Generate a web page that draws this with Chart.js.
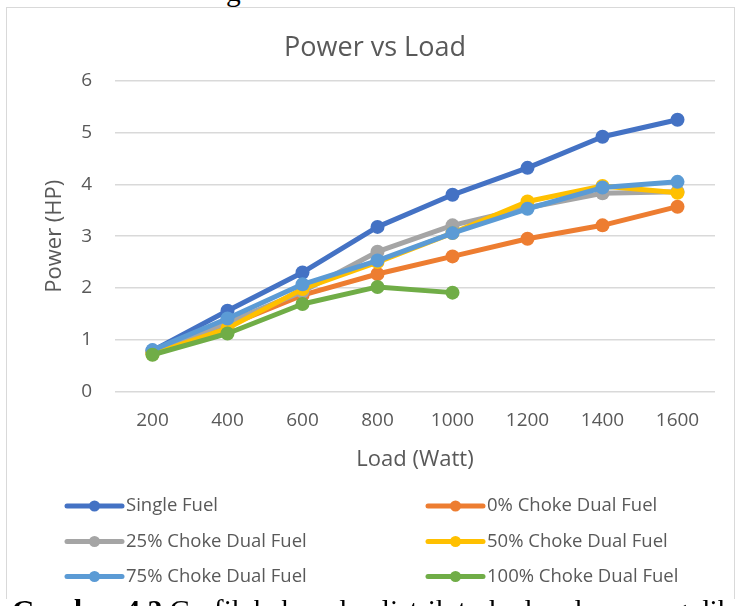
<!DOCTYPE html>
<html>
<head>
<meta charset="utf-8">
<title>Power vs Load</title>
<script src="https://cdn.jsdelivr.net/npm/chart.js@4.4.1/dist/chart.umd.min.js"></script>
<style>
  html, body { margin: 0; padding: 0; background: #fff; width: 739px; height: 606px; overflow: hidden; }
  #frame { position: absolute; left: 6px; top: 7px; width: 729px; height: 592px;
           border: 1.5px solid #d9d9d9; border-bottom: none; box-sizing: border-box; }
  #c { position: absolute; left: 0; top: 0; }
  .serif { position: absolute; font-family: "Liberation Serif", "Times New Roman", serif;
           font-size: 29.5px; line-height: 29.5px; white-space: nowrap; color: #000; }
  #above { left: 226px; top: -23px; }
  #caption { left: 12px; top: 596px; }
</style>
</head>
<body>
<div id="above" class="serif">g</div>
<div id="frame"></div>
<canvas id="c" width="739" height="606"></canvas>
<div id="caption" class="serif"><b>Gambar 4.2</b> Grafik beban dan listrik terhadap daya yang dihasilkan mesin</div>

<script>
// Load steps on the x axis (Watt)
const loads = ['200', '400', '600', '800', '1000', '1200', '1400', '1600'];

// Engine power output (HP) for each fuel mode
const singleFuel     = [0.79, 1.56, 2.30, 3.18, 3.80, 4.32, 4.92, 5.25];
const choke0Dual     = [0.75, 1.27, 1.86, 2.27, 2.61, 2.95, 3.21, 3.57];
const choke25Dual    = [0.76, 1.33, 1.93, 2.70, 3.21, 3.55, 3.83, 3.86];
const choke50Dual    = [0.72, 1.22, 1.98, 2.50, 3.06, 3.67, 3.97, 3.84];
const choke75Dual    = [0.80, 1.41, 2.07, 2.53, 3.06, 3.53, 3.94, 4.05];
const choke100Dual   = [0.71, 1.12, 1.69, 2.02, 1.91, null, null, null];

const seriesNames  = ['Single Fuel', '0% Choke Dual Fuel', '25% Choke Dual Fuel',
                      '50% Choke Dual Fuel', '75% Choke Dual Fuel', '100% Choke Dual Fuel'];
const seriesValues = [singleFuel, choke0Dual, choke25Dual, choke50Dual, choke75Dual, choke100Dual];
const seriesColors = ['#4472C4', '#ED7D31', '#A5A5A5', '#FFC000', '#5B9BD5', '#70AD47'];

// Y axis range
const yMin = 0, yMax = 6, yStep = 1;

const TEXT = '#595959';
const GRID = '#d9d9d9';
const FONT = '"Open Sans", "DejaVu Sans", sans-serif';

const datasets = seriesNames.map((name, i) => ({
  label: name,
  data: seriesValues[i],
  borderColor: seriesColors[i],
  backgroundColor: seriesColors[i],
  pointBackgroundColor: seriesColors[i],
  pointBorderColor: seriesColors[i],
  borderWidth: 5,
  pointRadius: 7,
  pointBorderWidth: 0,
  tension: 0,
  borderCapStyle: 'round',
  borderJoinStyle: 'round',
  spanGaps: false,
  // later series are painted over earlier ones
  order: seriesNames.length - i
}));

// Two-column legend below the axis, built from the datasets
const gridLegend = {
  id: 'gridLegend',
  afterDraw(chart) {
    const ctx = chart.ctx;
    const cols = [{ x0: 67, x1: 122, tx: 126 }, { x0: 428, x1: 483, tx: 487 }];
    const rows = [506, 541.5, 576.5];
    ctx.save();
    chart.data.datasets.forEach((ds, i) => {
      const c = cols[i % 2];
      const y = rows[Math.floor(i / 2)];
      ctx.strokeStyle = ds.borderColor;
      ctx.lineWidth = 5;
      ctx.lineCap = 'round';
      ctx.beginPath();
      ctx.moveTo(c.x0, y);
      ctx.lineTo(c.x1, y);
      ctx.stroke();
      ctx.fillStyle = ds.borderColor;
      ctx.beginPath();
      ctx.arc((c.x0 + c.x1) / 2, y, 5.5, 0, Math.PI * 2);
      ctx.fill();
      ctx.fillStyle = TEXT;
      ctx.font = '18.5px ' + FONT;
      ctx.textAlign = 'left';
      ctx.textBaseline = 'middle';
      ctx.fillText(ds.label, c.tx, y);
    });
    ctx.restore();
  }
};

new Chart(document.getElementById('c'), {
  type: 'line',
  data: { labels: loads, datasets },
  plugins: [gridLegend],
  options: {
    responsive: false,
    animation: false,
    devicePixelRatio: 1,
    layout: { padding: { left: 18, right: 7, top: 32, bottom: 126 } },
    plugins: {
      legend: { display: false },
      tooltip: { enabled: false },
      title: {
        display: true,
        text: 'Power vs Load',
        color: TEXT,
        font: { family: FONT, size: 27, weight: 'normal', lineHeight: 1.2 },
        padding: { top: 0, bottom: 16.5 }
      }
    },
    scales: {
      x: {
        type: 'category',
        offset: true,
        grid: { display: false, drawTicks: false },
        border: { display: false },
        ticks: { color: TEXT, font: { family: FONT, size: 19 }, padding: 18, maxRotation: 0, autoSkip: false },
        title: {
          display: true, text: 'Load (Watt)', color: TEXT,
          font: { family: FONT, size: 22, lineHeight: 1.2 },
          padding: { top: 0, bottom: 7 }
        },
        afterFit(scale) { scale.height = 88.5; }
      },
      y: {
        min: yMin, max: yMax,
        grid: { color: GRID, lineWidth: 1.5, drawTicks: false },
        border: { display: false },
        ticks: { stepSize: yStep, color: TEXT, font: { family: FONT, size: 19 }, padding: 23 },
        title: {
          display: true, text: 'Power (HP)', color: TEXT,
          font: { family: FONT, size: 22, lineHeight: 1.2 },
          padding: { top: 24, bottom: 0 }
        },
        afterFit(scale) { scale.width = 97; }
      },
      // empty right-hand strip so the plot stops short of the frame
      yRight: {
        position: 'right',
        display: true,
        grid: { display: false, drawTicks: false },
        border: { display: false },
        ticks: { display: false },
        afterFit(scale) { scale.width = 17; }
      }
    }
  }
});
</script>
</body>
</html>
